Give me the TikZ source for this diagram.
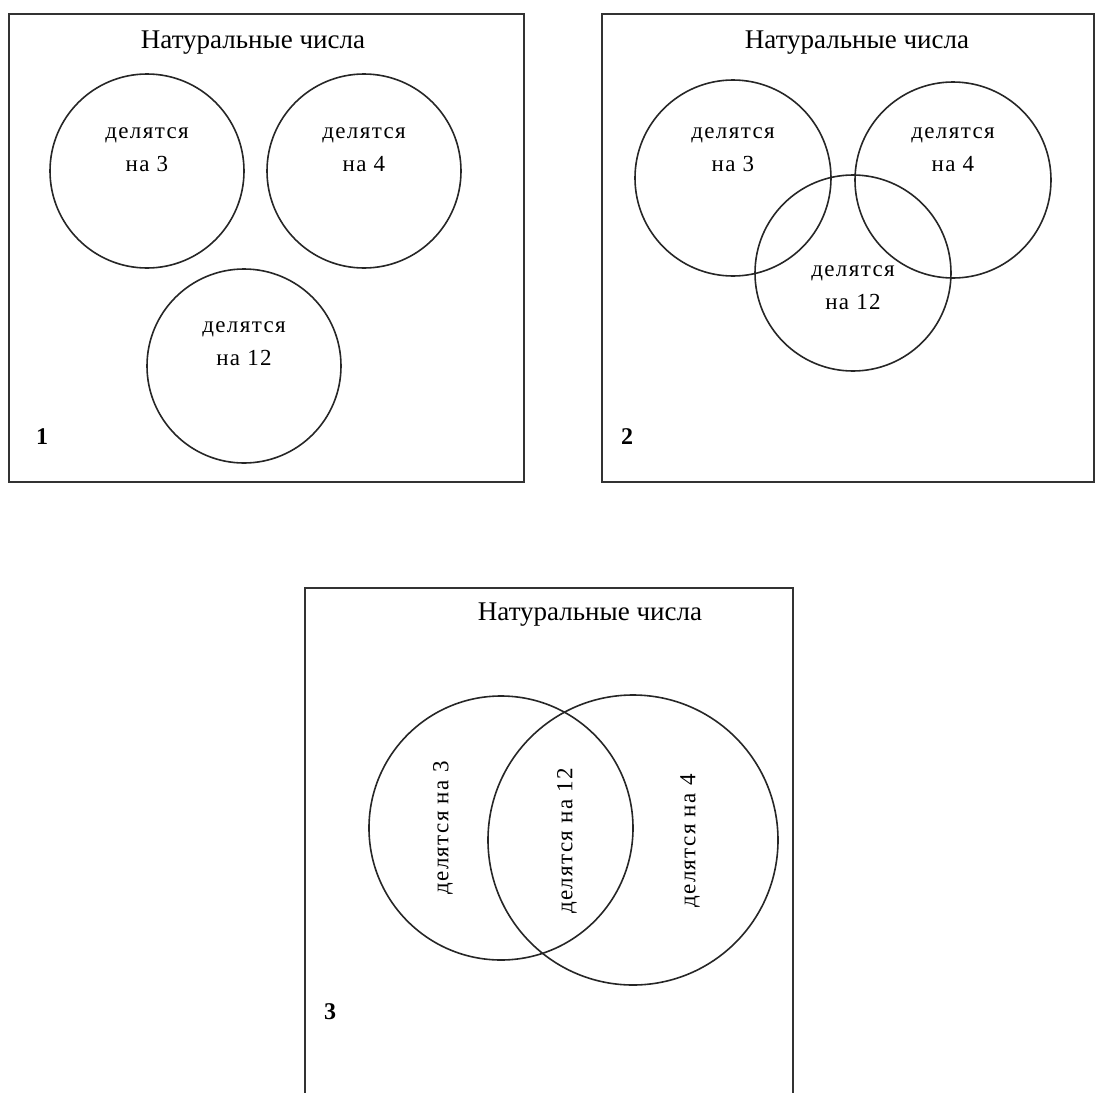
\documentclass[tikz,border=0pt]{standalone}
\usepackage{fontspec}
\setmainfont{Liberation Serif}

\tikzset{
  frame/.style={draw=black!80, line width=1.9pt},
  set/.style={circle, draw=black!85, line width=1.6pt, inner sep=0pt},
  title/.style={font=\fontsize{27}{30}\selectfont},
  setname/.style={align=center, font=\fontsize{23}{33}\selectfont\addfontfeature{LetterSpace=6}},
  num/.style={font=\fontsize{24}{26}\selectfont\bfseries}
}

\begin{document}
\begin{tikzpicture}[x=1pt,y=-1pt]
\useasboundingbox (0,0) rectangle (1104,1093);

\draw[frame] (9,14) rectangle (524,482);
\node[title] (t1) at (253,43) {Натуральные числа};
\node[set, minimum size=194pt] (a3) at (147,171) {};
\node[set, minimum size=194pt] (a4) at (364,171) {};
\node[set, minimum size=194pt] (a12) at (244,366) {};
\node[setname] (na3) at (147,150) {делятся\\на 3};
\node[setname] (na4) at (364,150) {делятся\\на 4};
\node[setname] (na12) at (244,344) {делятся\\на 12};
\node[num] (n1) at (42,437) {1};

\draw[frame] (602,14) rectangle (1094,482);
\node[title] (t2) at (857,43) {Натуральные числа};
\node[set, minimum size=196pt] (b3) at (733,178) {};
\node[set, minimum size=196pt] (b4) at (953,180) {};
\node[set, minimum size=196pt] (b12) at (853,273) {};
\node[setname] (nb3) at (733,150) {делятся\\на 3};
\node[setname] (nb4) at (953,150) {делятся\\на 4};
\node[setname] (nb12) at (853,288) {делятся\\на 12};
\node[num] (n2) at (627,437) {2};

\draw[frame] (305,588) rectangle (793,1120);
\node[title] (t3) at (590,615) {Натуральные числа};
\node[set, minimum size=264pt] (c3) at (501,828) {};
\node[set, minimum size=290pt] (c4) at (633,840) {};
\node[setname, rotate=90] (nc3) at (443,828) {делятся на 3};
\node[setname, rotate=90] (nc12) at (567,841) {делятся на 12};
\node[setname, rotate=90] (nc4) at (690,841) {делятся на 4};
\node[num] (n3) at (330,1012) {3};
\end{tikzpicture}
\end{document}
